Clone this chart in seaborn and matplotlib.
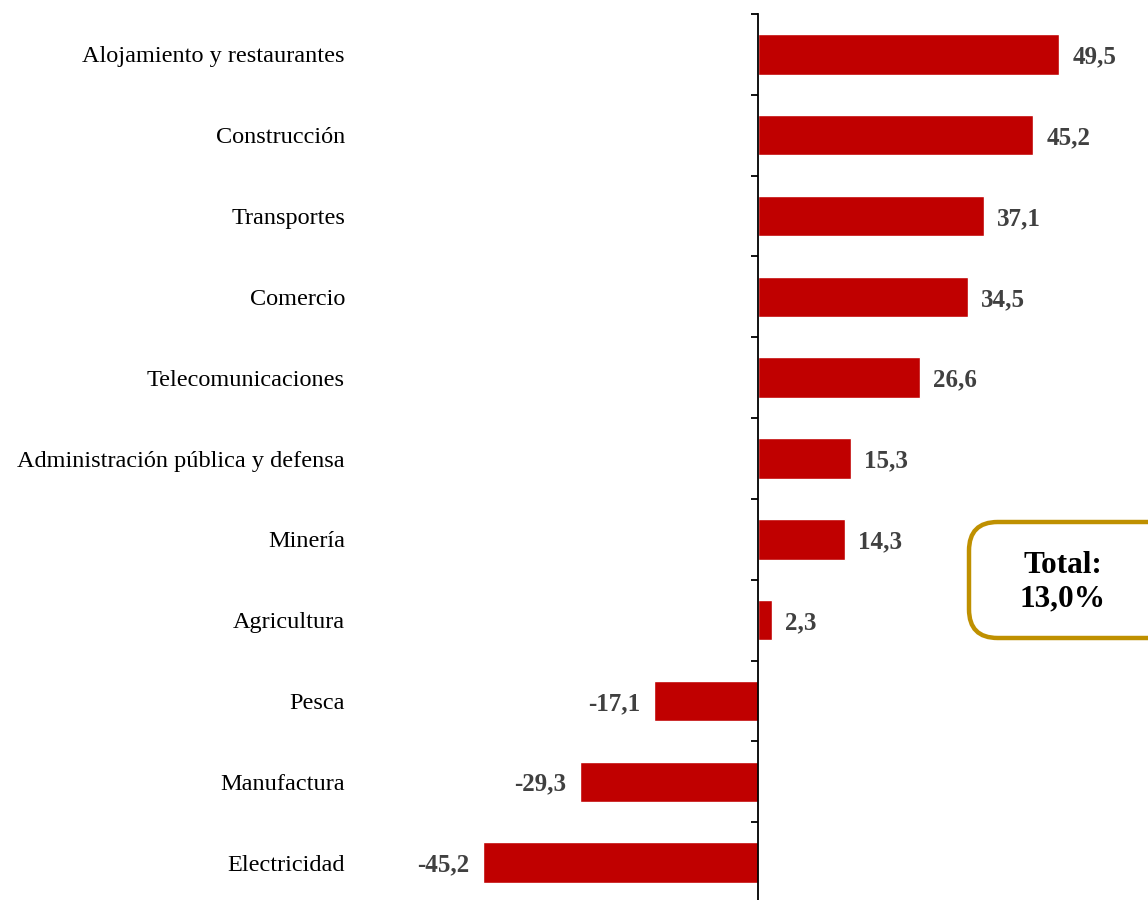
import matplotlib
matplotlib.use("Agg")
import matplotlib.pyplot as plt
import seaborn as sns
import pandas as pd
import numpy as np
from matplotlib.patches import FancyBboxPatch
import matplotlib.transforms as mtransforms

categories = ["Alojamiento y restaurantes", "Construcción", "Transportes", "Comercio",
              "Telecomunicaciones", "Administración pública y defensa", "Minería",
              "Agricultura", "Pesca", "Manufactura", "Electricidad"]
values = [49.5, 45.2, 37.1, 34.5, 26.6, 15.3, 14.3, 2.3, -17.1, -29.3, -45.2]
total_label = "Total:\n13,0%"

sns.set_theme(style="white")
plt.rcParams['font.family'] = ['Liberation Serif', 'DejaVu Serif']

df = pd.DataFrame({"cat": categories, "val": values})

fig = plt.figure(figsize=(11.48, 9.0), dpi=100)
ax = fig.add_axes([381 / 1148, 1 - 903 / 900, 754 / 1148, 889 / 900])
sns.barplot(data=df, y="cat", x="val", orient="h", color="#C00000", width=0.5,
            saturation=1, ax=ax)
ax.set_xlim(-62, 62)
ax.set_ylim(10.5, -0.5)

for s in ["top", "right", "bottom"]:
    ax.spines[s].set_visible(False)
ax.spines["left"].set_position(("data", 0))
ax.spines["left"].set_color("black")
ax.spines["left"].set_linewidth(1.3)
ax.set_xticks([])
ax.set_yticks(np.arange(-0.5, len(categories), 1.0))
ax.set_yticklabels([])
ax.tick_params(axis="y", left=True, length=5, width=1.3, color="black", direction="out")
ax.set_xlabel("")
ax.set_ylabel("")

trans = mtransforms.blended_transform_factory(fig.transFigure, ax.transData)
for i, c in enumerate(categories):
    ax.text(345 / 1148, i, c, transform=trans, ha="right", va="center_baseline",
            fontsize=17.5, color="black")

for i, v in enumerate(values):
    lab = f"{v:.1f}".replace(".", ",")
    off = 2.2
    if v >= 0:
        ax.text(v + off, i, lab, ha="left", va="center_baseline", fontsize=18,
                fontweight="bold", color="#404040")
    else:
        ax.text(v - off, i, lab, ha="right", va="center_baseline", fontsize=18,
                fontweight="bold", color="#404040")

box = FancyBboxPatch((969 / 1148, 1 - 638 / 900), 220 / 1148, 116 / 900,
                     boxstyle="round,pad=0,rounding_size=0.025",
                     transform=fig.transFigure, facecolor="white",
                     edgecolor="#BF9000", linewidth=3.2, mutation_aspect=1148 / 900)
fig.patches.append(box)
fig.text(1063 / 1148, 1 - 582 / 900, total_label, ha="center", va="center",
         fontsize=22.5, fontweight="bold", color="black", linespacing=1.2)

fig.savefig("out.png", dpi=100)
